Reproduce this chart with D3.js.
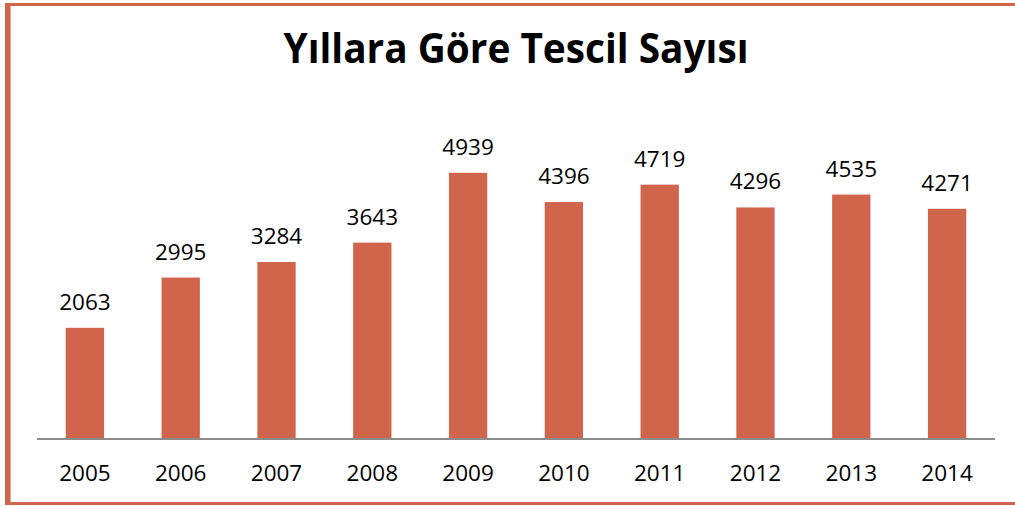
<!DOCTYPE html>
<html>
<head>
<meta charset="utf-8">
<script src="https://cdn.jsdelivr.net/npm/d3@7"></script>
<style>
  html, body { margin: 0; padding: 0; background: #fff; }
</style>
</head>
<body>
<div id="chart"></div>
<script>
// Data
const years = ["2005", "2006", "2007", "2008", "2009", "2010", "2011", "2012", "2013", "2014"];
const counts = [2063, 2995, 3284, 3643, 4939, 4396, 4719, 4296, 4535, 4271];
const title = "Yıllara Göre Tescil Sayısı";

const width = 1015, height = 506;
const barColor = "#D1654B";

const svg = d3.select("#chart")
  .append("svg")
    .attr("width", width)
    .attr("height", height);

// Frame (top, left, bottom edges)
svg.append("rect").attr("x", 5).attr("y", 3).attr("width", width - 5).attr("height", 3).attr("fill", barColor);
svg.append("rect").attr("x", 5).attr("y", 3).attr("width", 5).attr("height", 502).attr("fill", barColor);
svg.append("rect").attr("x", 10).attr("y", 6).attr("width", 1).attr("height", 497).attr("fill", "#EDA88F");
svg.append("rect").attr("x", 5).attr("y", 502).attr("width", width - 5).attr("height", 3).attr("fill", barColor);

// Title
svg.append("text")
  .attr("x", 516)
  .attr("y", 63)
  .attr("text-anchor", "middle")
  .attr("textLength", 465)
  .attr("lengthAdjust", "spacingAndGlyphs")
  .style("font-family", "'Open Sans', sans-serif")
  .style("font-weight", "bold")
  .style("font-size", "41px")
  .text(title);

// Scales
const baseline = 439;
const x = d3.scaleBand()
  .domain(years)
  .range([37, 995])
  .paddingInner(0.6)
  .paddingOuter(0.3);

const y = d3.scaleLinear()
  .domain([0, 6000])
  .range([baseline, baseline - 6000 * 0.0539]);

// Bars
svg.selectAll("rect.bar")
  .data(years)
  .enter()
  .append("rect")
    .attr("class", "bar")
    .attr("x", d => x(d))
    .attr("y", (d, i) => y(counts[i]))
    .attr("width", x.bandwidth())
    .attr("height", (d, i) => y(0) - y(counts[i]))
    .attr("fill", barColor);

// Value labels
svg.selectAll("text.value")
  .data(years)
  .enter()
  .append("text")
    .attr("class", "value")
    .attr("x", d => x(d) + x.bandwidth() / 2)
    .attr("y", (d, i) => y(counts[i]) - 18)
    .attr("text-anchor", "middle")
    .style("font-family", "'Open Sans', sans-serif")
    .style("font-size", "22.5px")
    .style("fill", "#000")
    .text((d, i) => counts[i]);

// X axis
const xAxis = svg.append("g")
  .attr("transform", `translate(0,${baseline})`)
  .call(d3.axisBottom(x).tickSize(0).tickPadding(26));

xAxis.select(".domain")
  .attr("d", "M37,0H995")
  .attr("stroke", "#8C8C8C")
  .attr("stroke-width", 2);

xAxis.selectAll("text")
  .style("font-family", "'Open Sans', sans-serif")
  .style("font-size", "22.5px")
  .style("fill", "#000");
</script>
</body>
</html>
